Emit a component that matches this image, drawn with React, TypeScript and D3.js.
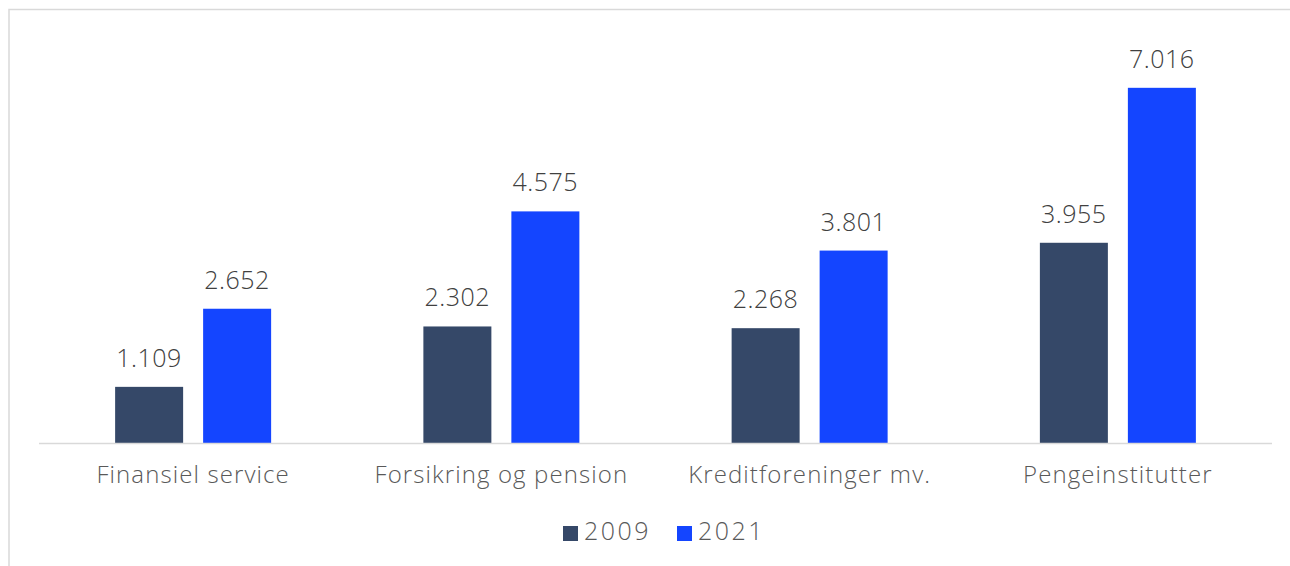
import React from "react";
import * as d3 from "d3";

const categories = ["Finansiel service", "Forsikring og pension", "Kreditforeninger mv.", "Pengeinstitutter"];
const seriesNames = ["2009", "2021"];
const values2009 = [1109, 2302, 2268, 3955];
const values2021 = [2652, 4575, 3801, 7016];
const seriesValues = [values2009, values2021];
const colors = ["#354868", "#1445ff"];

const fmt = (v: number) => d3.format(",")(v).replace(/,/g, ".");

export default function App() {
  const W = 1290, H = 566;
  const left = 39, right = 1272, top = 38, bottom = 443;
  const x = d3.scaleBand<string>().domain(categories).range([left, right]).paddingInner(0).paddingOuter(0);
  const y = d3.scaleLinear().domain([0, 8000]).range([bottom, top]);
  const barW = 68, gap = 20;
  const font = "'Open Sans', sans-serif";
  return (
    <svg width={W} height={H} style={{ position: "absolute", left: 0, top: 0 }}>
      <rect x={0} y={0} width={W} height={H} fill="#fff" />
      <rect x={9} y={9.5} width={W + 20} height={H + 20} fill="none" stroke="#d9d9d9" strokeWidth={1.5} />
      {categories.map((c, i) => {
        const cx = (x(c) as number) + x.bandwidth() / 2;
        return (
          <g key={c}>
            {seriesValues.map((vals, s) => {
              const bx = s === 0 ? cx - gap / 2 - barW : cx + gap / 2;
              const v = vals[i];
              return (
                <g key={s}>
                  <rect x={bx} y={y(v)} width={barW} height={bottom - y(v)} fill={colors[s]} />
                  <text x={bx + barW / 2} y={y(v) - 20} textAnchor="middle" fontFamily={font} fontWeight={300} fontSize={25} letterSpacing={0.5} fill="#404040">
                    {fmt(v)}
                  </text>
                </g>
              );
            })}
            <text x={cx} y={483} textAnchor="middle" fontFamily={font} fontWeight={300} fontSize={24} letterSpacing={1.1} fill="#595959">
              {c}
            </text>
          </g>
        );
      })}
      <line x1={left} x2={right} y1={bottom + 0.5} y2={bottom + 0.5} stroke="#d9d9d9" strokeWidth={1.5} />
      {seriesNames.map((n, s) => {
        const lx = s === 0 ? 563 : 677;
        return (
          <g key={n}>
            <rect x={lx} y={526} width={15} height={15} fill={colors[s]} />
            <text x={lx + 21} y={540} fontFamily={font} fontWeight={300} fontSize={25} letterSpacing={2.5} fill="#595959">{n}</text>
          </g>
        );
      })}
    </svg>
  );
}
